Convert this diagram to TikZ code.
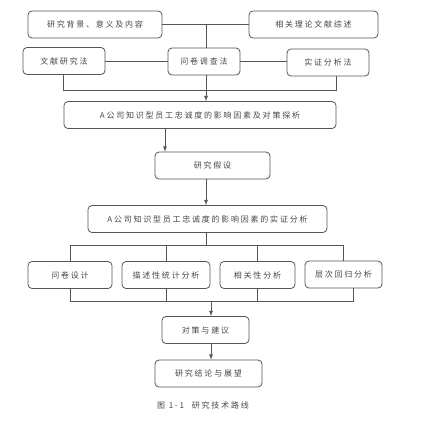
\documentclass[tikz,border=0pt]{standalone}
\usepackage{fontspec}
\newfontfamily\cjk[LetterSpace=22]{Noto Sans CJK SC}
\usepackage{tikz}
\definecolor{linegray}{RGB}{85,85,85}
\definecolor{textgray}{RGB}{70,70,70}
\def\boxh{27}

\begin{document}
\begin{tikzpicture}[x=1pt, y=-1pt,
	box/.style={draw=linegray, line width=0.8pt, rounded corners=4pt, inner sep=0pt, minimum height=\boxh pt, text=textgray, font=\cjk\fontsize{8}{9}\selectfont},
	link/.style={draw=linegray, line width=0.8pt},
	arr/.style={link, -latex}]
	\useasboundingbox (0,0) rectangle (430,426);
	%\draw[step=10pt, black!20!white] (0,0) grid (430,426);
	% helper columns
	\coordinate (cA) at (206,0);
	\coordinate (cB) at (165,0);
	\coordinate (cD) at (211,0);
	\coordinate (mL) at (63,90);
	\coordinate (mR) at (336,90);
	\coordinate (fan) at (206,245);
	\coordinate (col) at (206,301);
	% boxes
	\node[box, minimum width=134pt] (bg) at (95,24.5) {研究背景、意义及内容};
	\node[box, minimum width=129pt] (lit) at (313.5,24.5) {相关理论文献综述};
	\node[box, minimum width=82pt] (wx) at (64,61) {文献研究法};
	\node[box, minimum width=72pt] (wj) at (204,61.5) {问卷调查法};
	\node[box, minimum width=82pt] (sz) at (328,62.5) {实证分析法};
	\node[box, minimum width=272pt] (tx) at (200,115) {A公司知识型员工忠诚度的影响因素及对策探析};
	\node[box, minimum width=115pt] (jc) at (212.5,165.5) {研究假设};
	\node[box, minimum width=239pt] (sf) at (207.5,219) {A公司知识型员工忠诚度的影响因素的实证分析};
	\node[box, minimum width=84pt] (q1) at (70,275) {问卷设计};
	\node[box, minimum width=88pt] (q2) at (166,275) {描述性统计分析};
	\node[box, minimum width=75pt] (q3) at (257.5,275) {相关性分析};
	\node[box, minimum width=77pt] (q4) at (343.5,274.5) {层次回归分析};
	\node[box, minimum width=87pt] (dc) at (205.5,330) {对策与建议};
	\node[box, minimum width=107pt] (jl) at (208.5,373.5) {研究结论与展望};
	\node[text=textgray, font=\cjk\fontsize{8}{9}\selectfont] (cap) at (203,405) {图 1-1\quad 研究技术路线};
	% top part
	\draw[link] (bg.east) -- (bg.east -| lit.west);
	\draw[link] (bg.east -| cA) -- (wj.north -| cA);
	\draw[link] (wx.east) -- (wx.east -| wj.west);
	\draw[link] (wj.east) -- (wj.east -| sz.west);
	\draw[link] (wx.south -| mL) -- (mL) -- (mR) -- (sz.south -| mR);
	\draw[arr] (wj.south -| cA) -- (tx.north -| cA);
	\draw[arr] (tx.south -| cB) -- (jc.north -| cB);
	\draw[arr] (jc.south -| cA) -- (sf.north -| cA);
	% fan out
	\draw[link] (sf.south -| cA) -- (fan);
	\draw[link] (q1.north |- fan) -- (q4.north |- fan);
	\foreach \n in {q1,q2,q3,q4}
		\draw[link] (\n.north) -- (\n.north |- fan);
	% collect
	\foreach \n in {q1,q2,q3}
		\draw[link] (\n.south) -- (\n.south |- col);
	\draw[link] ([xshift=10pt]q4.south) -- ([xshift=10pt]q4.south |- col);
	\draw[link] (q1.south |- col) -- ([xshift=10pt]q4.south |- col);
	\draw[arr] (col -| cD) -- (dc.north -| cD);
	\draw[arr] (dc.south -| cD) -- (jl.north -| cD);
\end{tikzpicture}
\end{document}
